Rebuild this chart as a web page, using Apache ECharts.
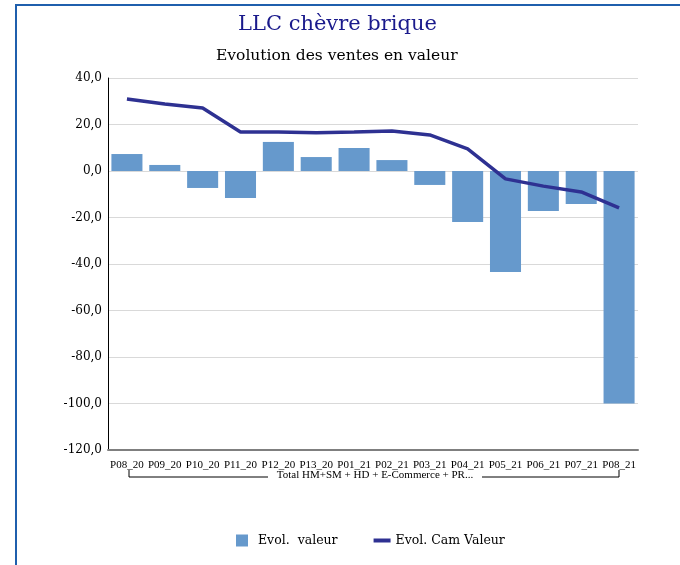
<!DOCTYPE html>
<html>
<head>
<meta charset="utf-8">
<script src="https://cdn.jsdelivr.net/npm/echarts@6/dist/echarts.min.js"></script>
<style>
  html, body { margin: 0; padding: 0; background: #fff; }
  #frame { position: absolute; left: 15px; top: 4px; width: 700px; height: 600px;
           border-left: 2px solid #1f5fad; border-top: 2px solid #1f5fad; }
  #chart { position: absolute; left: 0; top: 0; width: 680px; height: 565px; }
</style>
</head>
<body>
<div id="frame"></div>
<div id="chart"></div>
<script>
const periods = ['P08_20', 'P09_20', 'P10_20', 'P11_20', 'P12_20', 'P13_20', 'P01_21',
                 'P02_21', 'P03_21', 'P04_21', 'P05_21', 'P06_21', 'P07_21', 'P08_21']
const evolValeur = [7.3, 2.6, -7.3, -11.6, 12.5, 6.0, 9.9, 4.7, -6.0, -21.9, -43.4, -17.2, -14.2, -100.0]
const evolCamValeur = [31.0, 28.8, 27.1, 16.8, 16.8, 16.5, 16.8, 17.2, 15.5, 9.5, -3.4, -6.5, -9.0, -15.9]
const groupLabel = 'Total HM+SM + HD + E-Commerce + PR...'

const serif = 'Liberation Serif'
const wide = 'DejaVu Serif'
const chart = echarts.init(document.getElementById('chart'))

chart.setOption({
  backgroundColor: 'transparent',
  animation: false,
  title: [
    { text: 'LLC chèvre brique', left: 233, top: 9,
      textStyle: { fontFamily: wide, fontSize: 21, fontWeight: 'normal', color: '#1a1a8c' } },
    { text: 'Evolution des ventes en valeur', left: 211, top: 43,
      textStyle: { fontFamily: wide, fontSize: 15.5, fontWeight: 'normal', color: '#000' } },
  ],
  legend: {
    bottom: 13, left: 231, itemGap: 36, itemWidth: 17, itemHeight: 12, itemTextGap: 3,
    textStyle: { fontFamily: wide, fontSize: 12.5, color: '#000' },
    data: [
      { name: 'Evol.  valeur', icon: 'path://M0,0H12V12H0Z M17,0' },
      { name: 'Evol. Cam Valeur', icon: 'path://M0,0 M0,12 M0,4H17V8H0Z' },
    ],
  },
  grid: { left: 108, right: 42, top: 78, bottom: 115 },
  xAxis: {
    type: 'category',
    data: periods,
    position: 'bottom',
    axisLine: { onZero: false, lineStyle: { color: '#7f7f7f', width: 2 } },
    axisTick: { show: false },
    axisLabel: { fontFamily: serif, fontSize: 11, color: '#000', margin: 10, interval: 0 },
  },
  yAxis: {
    type: 'value',
    min: -120, max: 40, interval: 20,
    axisLine: { show: true, lineStyle: { color: '#000', width: 1 } },
    axisTick: { show: false },
    splitLine: { lineStyle: { color: '#d9d9d9', width: 1 } },
    axisLabel: {
      fontFamily: wide, fontSize: 12, color: '#000', margin: 6,
      formatter: v => v.toFixed(1).replace('.', ','),
    },
  },
  graphic: [
    { type: 'polyline', shape: { points: [[129, 470], [129, 477], [268, 477]] },
      style: { stroke: '#000', lineWidth: 1, fill: null } },
    { type: 'polyline', shape: { points: [[482, 477], [619, 477], [619, 470]] },
      style: { stroke: '#000', lineWidth: 1, fill: null } },
    { type: 'text', x: 375, y: 470,
      style: { text: groupLabel, fontFamily: serif, fontSize: 11, fill: '#000', align: 'center' } },
  ],
  series: [
    {
      name: 'Evol.  valeur',
      type: 'bar',
      data: evolValeur,
      barCategoryGap: '18%',
      itemStyle: { color: '#6699cc' },
    },
    {
      name: 'Evol. Cam Valeur',
      type: 'line',
      data: evolCamValeur,
      symbol: 'none',
      lineStyle: { color: '#2e3192', width: 3.5 },
      itemStyle: { color: '#2e3192' },
    },
  ],
})
</script>
</body>
</html>
